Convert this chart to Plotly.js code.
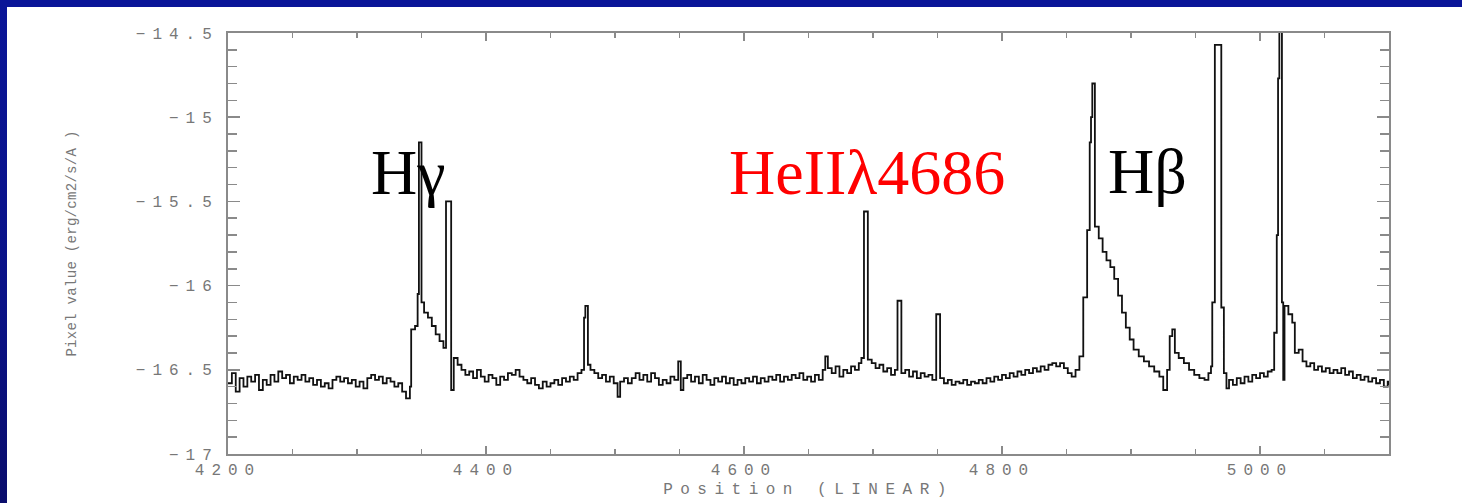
<!DOCTYPE html>
<html>
<head>
<meta charset="utf-8">
<script src="https://cdn.plot.ly/plotly-3.0.1.min.js"></script>
<style>
  html, body { margin: 0; padding: 0; background: #ffffff; overflow: hidden; }
  ::-webkit-scrollbar { display: none; width: 0; height: 0; }
  body { width: 1462px; height: 503px; position: relative; }
  #topbar { position: absolute; left: 0; top: 0; width: 1462px; height: 7px; background: #0a1598; }
  #leftbar { position: absolute; left: 0; top: 0; width: 7px; height: 503px;
             background: linear-gradient(to bottom, #0a1598 0%, #0a1286 60%, #0a0d6c 100%); }
  #chart { position: absolute; left: 7px; top: 7px; width: 1455px; height: 496px; background: #fff; }
  .xtick text, .ytick text { letter-spacing: 7px; }
  .g-xtitle text { letter-spacing: 7.5px; }
  .g-ytitle text { letter-spacing: 0.3px; }
</style>
</head>
<body>
<div id="topbar"></div>
<div id="leftbar"></div>
<div id="chart"></div>
<script>
// Wavelength (Angstrom) and log flux values
const wavelength = [
  4200,4203,4206,4209,4212,4215,4218,4221,4224,4227,4230,4233,4236,4239,4242,4245,4248,4251,4254,4257,
  4260,4263,4266,4269,4272,4275,4278,4281,4284,4287,4290,4293,4296,4299,4302,4305,4308,4311,4314,4317,
  4320,4323,4326,4329,4332,4335,4338,4341,4342,4345,4347,4348,4350,4352,4355,4358,4361,4364,4367,4369,
  4373,4375,4378,4381,4384,4387,4390,4393,4396,4399,4402,4405,4408,4411,4414,4417,4420,4423,4426,4429,
  4432,4435,4438,4441,4444,4447,4450,4453,4456,4459,4462,4465,4468,4471,4474,4476,4477,4479,4481,4484,
  4487,4490,4493,4496,4499,4502,4504,4507,4510,4513,4516,4519,4522,4525,4528,4531,4534,4537,4540,4543,
  4546,4549,4551,4553,4556,4559,4562,4565,4568,4571,4574,4577,4580,4583,4586,4589,4592,4595,4598,4601,
  4604,4607,4610,4613,4616,4619,4622,4625,4628,4631,4634,4637,4640,4643,4646,4649,4652,4655,4658,4661,
  4663,4665,4668,4671,4674,4677,4680,4683,4686,4689,4691,4693,4696,4699,4702,4705,4708,4711,4714,4717,
  4719,4722,4725,4728,4731,4734,4737,4740,4743,4746,4749,4752,4755,4758,4761,4764,4767,4770,4773,4776,
  4779,4782,4785,4788,4791,4794,4797,4800,4803,4806,4809,4812,4815,4818,4821,4824,4827,4830,4833,4836,
  4839,4842,4845,4848,4851,4854,4857,4860,4863,4866,4868,4869,4870,4872,4875,4878,4881,4884,4887,4890,
  4893,4896,4899,4902,4906,4910,4914,4918,4922,4925,4928,4930,4932,4934,4937,4941,4945,4949,4953,4957,
  4960,4962,4963,4965,4970,4972,4974,4976,4979,4982,4985,4988,4991,4994,4997,5000,5003,5006,5009,5011,
  5013,5014,5015,5017,5018,5019,5022,5025,5027,5030,5033,5036,5039,5042,5045,5048,5051,5054,5057,5060,
  5063,5066,5069,5072,5075,5078,5081,5084,5087,5090,5093,5096,5099,5100
];
const logFlux = [
  -16.58,-16.52,-16.63,-16.55,-16.60,-16.54,-16.57,-16.53,-16.62,-16.56,-16.59,-16.53,-16.57,-16.51,-16.55,-16.53,-16.58,-16.54,-16.56,-16.53,
  -16.57,-16.55,-16.59,-16.56,-16.60,-16.58,-16.61,-16.56,-16.54,-16.57,-16.55,-16.58,-16.56,-16.60,-16.57,-16.61,-16.55,-16.53,-16.56,-16.54,
  -16.58,-16.55,-16.57,-16.60,-16.58,-16.63,-16.67,-16.60,-16.26,-16.24,-16.05,-15.15,-16.10,-16.16,-16.19,-16.24,-16.29,-16.33,-16.37,-15.50,
  -16.62,-16.43,-16.47,-16.50,-16.53,-16.51,-16.55,-16.50,-16.54,-16.57,-16.53,-16.55,-16.59,-16.54,-16.56,-16.52,-16.53,-16.50,-16.54,-16.56,
  -16.58,-16.55,-16.59,-16.61,-16.57,-16.60,-16.58,-16.56,-16.59,-16.55,-16.57,-16.54,-16.56,-16.52,-16.50,-16.19,-16.12,-16.47,-16.50,-16.52,
  -16.55,-16.53,-16.57,-16.54,-16.58,-16.66,-16.57,-16.55,-16.58,-16.55,-16.52,-16.56,-16.53,-16.57,-16.52,-16.55,-16.59,-16.56,-16.58,-16.54,
  -16.56,-16.45,-16.62,-16.55,-16.53,-16.57,-16.54,-16.58,-16.53,-16.56,-16.59,-16.55,-16.57,-16.54,-16.58,-16.55,-16.59,-16.56,-16.58,-16.55,
  -16.57,-16.54,-16.58,-16.55,-16.57,-16.54,-16.56,-16.53,-16.57,-16.54,-16.56,-16.53,-16.55,-16.52,-16.56,-16.54,-16.57,-16.53,-16.56,-16.50,
  -16.42,-16.49,-16.52,-16.48,-16.54,-16.50,-16.52,-16.48,-16.50,-16.46,-16.43,-15.56,-16.44,-16.46,-16.49,-16.47,-16.51,-16.49,-16.53,-16.50,
  -16.09,-16.52,-16.50,-16.54,-16.51,-16.55,-16.52,-16.54,-16.53,-16.56,-16.17,-16.55,-16.58,-16.56,-16.59,-16.57,-16.58,-16.56,-16.59,-16.57,
  -16.58,-16.56,-16.58,-16.55,-16.57,-16.54,-16.56,-16.53,-16.55,-16.52,-16.54,-16.51,-16.53,-16.50,-16.52,-16.49,-16.51,-16.48,-16.50,-16.47,
  -16.46,-16.48,-16.46,-16.49,-16.52,-16.54,-16.50,-16.42,-16.07,-15.67,-15.15,-15.00,-14.80,-15.65,-15.72,-15.80,-15.85,-15.89,-15.96,-16.06,
  -16.16,-16.25,-16.32,-16.38,-16.42,-16.45,-16.48,-16.51,-16.54,-16.62,-16.50,-16.30,-16.26,-16.40,-16.43,-16.46,-16.50,-16.53,-16.55,-16.56,
  -16.52,-16.48,-16.10,-14.57,-16.13,-16.52,-16.61,-16.56,-16.59,-16.55,-16.58,-16.54,-16.57,-16.53,-16.55,-16.52,-16.54,-16.51,-16.50,-16.28,
  -15.70,-14.77,-14.45,-16.10,-16.56,-16.12,-16.17,-16.22,-16.40,-16.38,-16.45,-16.48,-16.46,-16.50,-16.48,-16.51,-16.49,-16.52,-16.50,-16.52,
  -16.49,-16.53,-16.51,-16.55,-16.53,-16.56,-16.54,-16.57,-16.55,-16.58,-16.56,-16.60,-16.57,-16.59
];
const xTickValues = [4200, 4400, 4600, 4800, 5000];
const yTickValues = [-17, -16.5, -16, -15.5, -15, -14.5];
const lineLabels = ['Hγ', 'HeIIλ4686', 'Hβ'];
const lineLabelColors = ['#000000', '#ff0000', '#000000'];

const axisGray = '#8a8a8a';
const tickFont = { family: 'Liberation Mono, DejaVu Sans Mono, monospace', size: 16, color: '#777777' };

const trace = {
  x: wavelength, y: logFlux, type: 'scatter', mode: 'lines',
  line: { color: '#111111', width: 1.8, shape: 'hv' },
  hoverinfo: 'x+y', showlegend: false
};

// label positions in paper units of the plot area
const labelPos = [ {x: 0.1215, y: 0.668}, {x: 0.4295, y: 0.668}, {x: 0.7565, y: 0.672} ];
const annotations = lineLabels.map((t, i) => ({
  text: t, xref: 'paper', yref: 'paper', x: labelPos[i].x, y: labelPos[i].y,
  xanchor: 'left', yanchor: 'middle', showarrow: false,
  font: { family: 'Liberation Serif, Times New Roman, serif', size: 64, color: lineLabelColors[i] }
}));

const layout = {
  width: 1455, height: 496,
  margin: { l: 221, r: 73, t: 26, b: 49, pad: 0 },
  paper_bgcolor: '#ffffff', plot_bgcolor: '#ffffff',
  showlegend: false,
  xaxis: {
    range: [4200, 5100], tickmode: 'array', tickvals: xTickValues,
    ticktext: xTickValues.map(String),
    ticks: 'inside', ticklen: 8, tickwidth: 1.5, tickcolor: axisGray,
    minor: { dtick: 50, tick0: 4200, ticks: 'inside', ticklen: 5, tickwidth: 1.5, tickcolor: axisGray, showgrid: false },
    showline: true, linecolor: axisGray, linewidth: 2, mirror: 'ticks',
    showgrid: false, zeroline: false, tickfont: tickFont,
    title: { text: 'Position (LINEAR)', font: tickFont, standoff: 4 }
  },
  yaxis: {
    range: [-17, -14.5], tickmode: 'array', tickvals: yTickValues,
    ticktext: ['−17', '−16.5', '−16', '−15.5', '−15', '−14.5'],
    ticks: 'inside', ticklen: 12, tickwidth: 1.5, tickcolor: axisGray,
    minor: { dtick: 0.1, tick0: -17, ticks: 'inside', ticklen: 9, tickwidth: 1.5, tickcolor: axisGray, showgrid: false },
    showline: true, linecolor: axisGray, linewidth: 2, mirror: 'ticks',
    showgrid: false, zeroline: false, tickfont: tickFont, ticklabelstandoff: 4,
    title: { text: 'Pixel value (erg/cm2/s/A )', font: { family: 'Liberation Mono, DejaVu Sans Mono, monospace', size: 14, color: '#777777' }, standoff: 56 }
  },
  annotations: annotations
};

Plotly.newPlot('chart', [trace], layout, { staticPlot: true, displayModeBar: false });
</script>
</body>
</html>
